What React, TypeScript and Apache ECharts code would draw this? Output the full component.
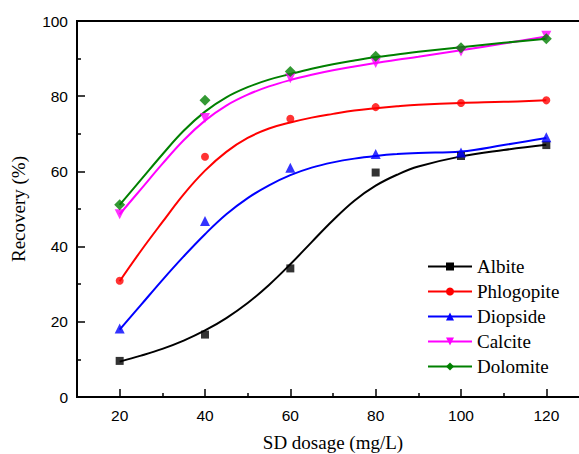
import React, { useEffect, useRef } from 'react';
import * as echarts from 'echarts';

// Measured points
const dosage = [20, 40, 60, 80, 100, 120];
const albite = [9.6, 16.6, 34.2, 59.7, 64.1, 67.0];
const phlogopite = [30.9, 63.9, 74.0, 77.1, 78.2, 78.9];
const diopside = [18.2, 46.8, 61.0, 64.6, 65.0, 69.1];
const calcite = [48.6, 74.2, 84.8, 88.8, 91.9, 96.1];
const dolomite = [51.1, 78.9, 86.6, 90.6, 92.9, 95.3];

// Fitted curves
const fitDosage = [20, 25, 30, 35, 40, 45, 50, 55, 60, 65, 70, 75, 80, 85, 90, 100, 110, 120];
const albiteFit = [9.4, 11.0, 12.8, 15.0, 17.7, 21.0, 25.0, 29.8, 35.3, 41.2, 47.0, 52.2, 56.2, 59.1, 61.3, 64.0, 65.7, 67.1];
const phlogopiteFit = [30.8, 38.9, 46.5, 53.9, 60.2, 65.2, 68.9, 71.4, 73.0, 74.3, 75.3, 76.2, 76.8, 77.3, 77.7, 78.2, 78.5, 78.9];
const diopsideFit = [17.9, 24.5, 31.1, 37.4, 43.3, 48.6, 52.9, 56.3, 59.0, 61.0, 62.4, 63.4, 64.1, 64.6, 64.9, 65.3, 67.0, 68.9];
const calciteFit = [48.6, 55.3, 62.0, 68.3, 73.5, 77.5, 80.4, 82.6, 84.3, 85.7, 86.9, 87.9, 88.8, 89.7, 90.5, 92.2, 94.0, 95.9];
const dolomiteFit = [51.1, 57.8, 64.5, 70.8, 75.9, 79.7, 82.4, 84.4, 85.9, 87.3, 88.5, 89.5, 90.4, 91.1, 91.8, 93.0, 94.2, 95.3];

const xMajorTicks = [20, 40, 60, 80, 100, 120];
const xMinorTicks = [30, 50, 70, 90, 110];

const names = ['Albite', 'Phlogopite', 'Diopside', 'Calcite', 'Dolomite'];
const colors = ['#000000', '#ff0000', '#0000ff', '#ff00ff', '#008000'];
const symbols = ['rect', 'circle', 'triangle', 'triangle', 'diamond'];
const symbolSizes = [8, 8, 10, 10, 11];
const symbolRotates = [0, 0, 0, 180, 0];
const pointSets = [albite, phlogopite, diopside, calcite, dolomite];
const fitSets = [albiteFit, phlogopiteFit, diopsideFit, calciteFit, dolomiteFit];

export default function App() {
  const ref = useRef<HTMLDivElement>(null);
  useEffect(() => {
    const chart = echarts.init(ref.current!, null, { renderer: 'svg' });
    const series: any[] = [];
    names.forEach((name, i) => {
      series.push({
        type: 'line',
        name,
        data: fitDosage.map((x, j) => [x, fitSets[i][j]]),
        smooth: 0.4,
        symbol: symbols[i],
        symbolSize: symbolSizes[i],
        symbolRotate: symbolRotates[i],
        showSymbol: false,
        lineStyle: { color: colors[i], width: 2 },
        itemStyle: { color: colors[i] },
        z: 2,
      });
    });
    names.forEach((name, i) => {
      series.push({
        type: 'scatter',
        name,
        data: dosage.map((x, j) => [x, pointSets[i][j]]),
        symbol: symbols[i],
        symbolSize: symbolSizes[i],
        symbolRotate: symbolRotates[i],
        itemStyle: { color: colors[i] },
        z: 3,
      });
    });
    const axisColor = '#000';
    chart.setOption({
      animation: false,
      backgroundColor: '#ffffff',
      grid: {
        left: 77,
        top: 21,
        right: -10,
        bottom: 57,
        outerBoundsMode: 'none',
        containLabel: false,
        show: true,
        borderColor: axisColor,
        borderWidth: 2,
        backgroundColor: 'transparent',
      },
      legend: {
        data: names,
        orient: 'vertical',
        left: 427,
        top: 257,
        padding: 0,
        itemWidth: 44,
        itemHeight: 10,
        itemGap: 6,
        textStyle: { fontFamily: 'Liberation Serif', fontSize: 19, lineHeight: 19, color: '#000' },
      },
      xAxis: [
        {
          type: 'value',
          min: 10,
          max: 130,
          position: 'bottom',
          axisLine: { show: true, lineStyle: { color: axisColor, width: 2 } },
          axisTick: { show: true, inside: true, length: 8, customValues: xMajorTicks, lineStyle: { color: axisColor, width: 1.5 } },
          axisLabel: { customValues: xMajorTicks, color: '#000', fontSize: 15.5, fontFamily: 'Liberation Sans', margin: 10 },
          splitLine: { show: false },
          name: 'SD dosage (mg/L)',
          nameLocation: 'middle',
          nameGap: 36,
          nameTextStyle: { fontFamily: 'Liberation Serif', fontSize: 19, color: '#000' },
        },
        {
          type: 'value',
          min: 10,
          max: 130,
          position: 'bottom',
          axisLine: { show: false },
          axisTick: { show: true, inside: true, length: 4, customValues: xMinorTicks, lineStyle: { color: axisColor, width: 1.5 } },
          axisLabel: { show: false },
          splitLine: { show: false },
        },
      ],
      yAxis: {
        type: 'value',
        min: 0,
        max: 100,
        interval: 20,
        axisLine: { show: true, lineStyle: { color: axisColor, width: 2 } },
        axisTick: { show: true, inside: true, length: 8, lineStyle: { color: axisColor, width: 1.5 } },
        minorTick: { show: true, splitNumber: 2, length: 4, lineStyle: { color: axisColor, width: 1.5 } },
        axisLabel: { color: '#000', fontSize: 15.5, fontFamily: 'Liberation Sans', margin: 9 },
        splitLine: { show: false },
        minorSplitLine: { show: false },
        name: 'Recovery (%)',
        nameLocation: 'middle',
        nameGap: 49,
        nameTextStyle: { fontFamily: 'Liberation Serif', fontSize: 19, color: '#000' },
      },
      series,
    });
    return () => chart.dispose();
  }, []);
  return (
    <div
      ref={ref}
      style={{ position: 'fixed', left: 0, top: 0, width: 579, height: 454, background: '#fff' }}
    />
  );
}
